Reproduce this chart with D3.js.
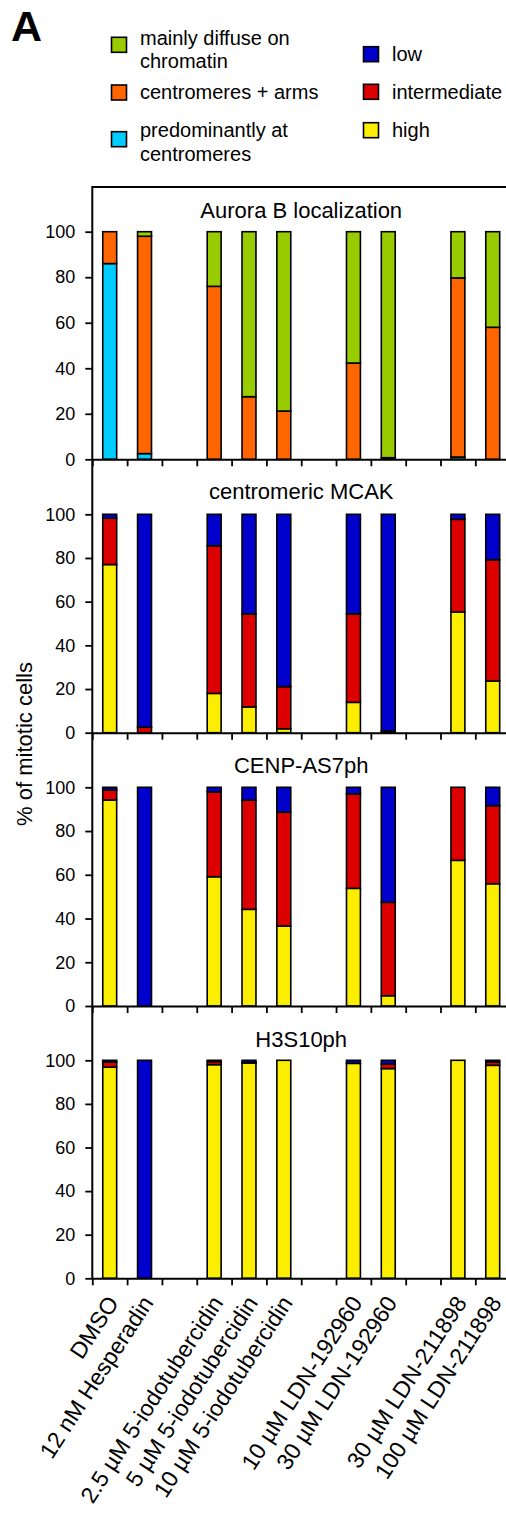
<!DOCTYPE html>
<html>
<head>
<meta charset="utf-8">
<script src="https://cdn.jsdelivr.net/npm/d3@7"></script>
<style>
  html, body { margin: 0; padding: 0; background: #fff; }
  svg { display: block; font-family: "Liberation Sans", Arial, sans-serif; }
</style>
</head>
<body>
<svg id="chart" width="506" height="1515"></svg>
<script>
// ---------- data ----------
const drugs = [
  'DMSO', '12 nM Hesperadin',
  '2.5 \u00b5M 5-iodotubercidin', '5 \u00b5M 5-iodotubercidin', '10 \u00b5M 5-iodotubercidin',
  '10 \u00b5M LDN-192960', '30 \u00b5M LDN-192960',
  '30 \u00b5M LDN-211898', '100 \u00b5M LDN-211898'
];
// slot order along x, gaps separate the drug groups
const slots = [
  drugs[0], drugs[1], 'gap1',
  drugs[2], drugs[3], drugs[4], 'gap2',
  drugs[5], drugs[6], 'gap3',
  drugs[7], drugs[8]
];
const yTicks = [0, 20, 40, 60, 80, 100];

// Aurora B localization (% of mitotic cells)
const auroraCentromeres = [86, 2.5, 0, 0, 0, 0, 0, 1, 0];
const auroraArms        = [14, 95.5, 76, 27.5, 21.2, 42.3, 0.7, 78.7, 58];
const auroraDiffuse     = [0, 2, 24, 72.5, 78.8, 57.7, 99.3, 20.3, 42];

// centromeric MCAK
const mcakHigh  = [77, 0, 18, 11.8, 1.8, 13.9, 0, 55.3, 23.7];
const mcakInter = [21.2, 2.5, 67.6, 42.6, 19.3, 40.5, 0.8, 42.4, 55.5];
const mcakLow   = [1.8, 97.5, 14.4, 45.6, 78.9, 45.6, 99.2, 2.3, 20.8];

// CENP-AS7ph
const cenpHigh  = [94.2, 0, 59.1, 44.2, 36.6, 53.8, 4.7, 66.6, 55.9];
const cenpInter = [4.6, 0, 38.8, 49.9, 52, 43.2, 42.7, 33.4, 35.7];
const cenpLow   = [1.2, 100, 2.1, 5.9, 11.4, 3, 52.6, 0, 8.4];

// H3S10ph
const h3High  = [96.9, 0, 98, 98.8, 100, 98.6, 96.2, 100, 97.7];
const h3Inter = [2.3, 0, 1.4, 0.2, 0, 0, 2.1, 0, 1.5];
const h3Low   = [0.8, 100, 0.6, 1.0, 0, 1.4, 1.7, 0, 0.8];

// ---------- colours ----------
const C = {
  diffuse: '#99cc00', arms: '#ff6600', centromeres: '#00ccff',
  low: '#0000cc', inter: '#dd0000', high: '#fcee00'
};

// ---------- layout ----------
const svg = d3.select('#chart');
const x0 = 92.3, step = 34.82, x1 = x0 + step * slots.length;

const x = d3.scaleBand()
  .domain(slots)
  .range([x0, x1])
  .paddingInner(0.6)
  .paddingOuter(0.3);

const edge = d3.scaleLinear().domain([0, slots.length]).range([x0, x1]);

const panels = [
  { title: 'Aurora B localization', top: 187, y100: 231.7, y0: 459.3, titleY: 218.3,
    keys: ['centromeres', 'arms', 'diffuse'],
    series: [auroraCentromeres, auroraArms, auroraDiffuse] },
  { title: 'centromeric MCAK', top: 459.3, y100: 514.3, y0: 732.7, titleY: 498.5,
    keys: ['high', 'inter', 'low'],
    series: [mcakHigh, mcakInter, mcakLow] },
  { title: 'CENP-AS7ph', top: 732.7, y100: 787.3, y0: 1006, titleY: 772.5,
    keys: ['high', 'inter', 'low'],
    series: [cenpHigh, cenpInter, cenpLow] },
  { title: 'H3S10ph', top: 1006, y100: 1060.3, y0: 1278.3, titleY: 1046.5,
    keys: ['high', 'inter', 'low'],
    series: [h3High, h3Inter, h3Low] }
];

panels.forEach((p) => {
  const y = d3.scaleLinear().domain([0, 100]).range([p.y0, p.y100]);
  const rows = drugs.map((d, i) => {
    const r = { drug: d };
    p.keys.forEach((k, j) => { r[k] = p.series[j][i]; });
    return r;
  });
  const stacked = d3.stack().keys(p.keys)(rows);

  const g = svg.append('g');

  stacked.forEach((layer) => {
    g.append('g')
      .selectAll('rect')
      .data(layer.filter((d) => d[1] - d[0] > 0))
      .join('rect')
      .attr('x', (d) => x(d.data.drug))
      .attr('width', x.bandwidth())
      .attr('y', (d) => y(d[1]))
      .attr('height', (d) => y(d[0]) - y(d[1]))
      .attr('fill', C[layer.key])
      .attr('stroke', '#000')
      .attr('stroke-width', 1.6);
  });

  // y axis ticks
  const ya = g.append('g')
    .attr('transform', `translate(${x0},0)`)
    .call(d3.axisLeft(y).tickValues(yTicks).tickSize(7).tickSizeOuter(0).tickPadding(10));
  ya.select('.domain').remove();
  ya.selectAll('line').attr('stroke-width', 1.8);
  ya.selectAll('text')
    .attr('font-size', 18)
    .attr('font-family', '"Liberation Sans", Arial, sans-serif')
    .attr('fill', '#000');

  // x axis (ticks between slots)
  const xa = g.append('g')
    .attr('transform', `translate(0,${p.y0})`)
    .call(d3.axisBottom(edge).tickValues(d3.range(slots.length + 1))
      .tickSize(7).tickSizeOuter(0).tickFormat(''));
  xa.select('.domain').attr('stroke-width', 2);
  xa.selectAll('line').attr('stroke-width', 1.8);

  // panel title
  g.append('text')
    .attr('x', (x0 + x1) / 2)
    .attr('y', p.titleY)
    .attr('text-anchor', 'middle')
    .attr('font-size', 22)
    .text(p.title);
});

// frame: left axis + top border + right border
svg.append('path')
  .attr('d', `M${x0},${panels[3].y0}V${panels[0].top}H${x1}V${panels[3].y0}`)
  .attr('fill', 'none')
  .attr('stroke', '#000')
  .attr('stroke-width', 2);

// x category labels
svg.append('g')
  .selectAll('text')
  .data(drugs)
  .join('text')
  .attr('transform', (d) => `translate(${x(d) + x.bandwidth() / 2 + 3},${panels[3].y0 + 20}) rotate(-57)`)
  .attr('text-anchor', 'end')
  .attr('dy', '0.35em')
  .attr('font-size', 23)
  .text((d) => d);

// y axis title
svg.append('text')
  .attr('transform', 'translate(32,744) rotate(-90)')
  .attr('text-anchor', 'middle')
  .attr('font-size', 22)
  .text('% of mitotic cells');

// panel letter
svg.append('text')
  .attr('x', 11)
  .attr('y', 40.7)
  .attr('font-size', 43)
  .attr('font-weight', 'bold')
  .text('A');

// ---------- legend ----------
const legendLeft = [
  { key: 'diffuse', lines: ['mainly diffuse on', 'chromatin'], sq: 37.3, base: 44.5 },
  { key: 'arms', lines: ['centromeres + arms'], sq: 85, base: 99 },
  { key: 'centromeres', lines: ['predominantly at', 'centromeres'], sq: 131.7, base: 137.3 }
];
const legendRight = [
  { key: 'low', lines: ['low'], sq: 46.7, base: 61 },
  { key: 'inter', lines: ['intermediate'], sq: 84.3, base: 99 },
  { key: 'high', lines: ['high'], sq: 122.7, base: 136.7 }
];

function drawLegend(items, sqX, txtX) {
  const lg = svg.append('g');
  items.forEach((it) => {
    lg.append('rect')
      .attr('x', sqX).attr('y', it.sq)
      .attr('width', 15).attr('height', 15)
      .attr('fill', C[it.key])
      .attr('stroke', '#000')
      .attr('stroke-width', 1.6);
    const t = lg.append('text')
      .attr('x', txtX).attr('y', it.base)
      .attr('font-size', 20);
    it.lines.forEach((ln, i) => {
      t.append('tspan').attr('x', txtX).attr('dy', i === 0 ? 0 : 23.5).text(ln);
    });
  });
}
drawLegend(legendLeft, 111.5, 140);
drawLegend(legendRight, 363.5, 392);
</script>
</body>
</html>
